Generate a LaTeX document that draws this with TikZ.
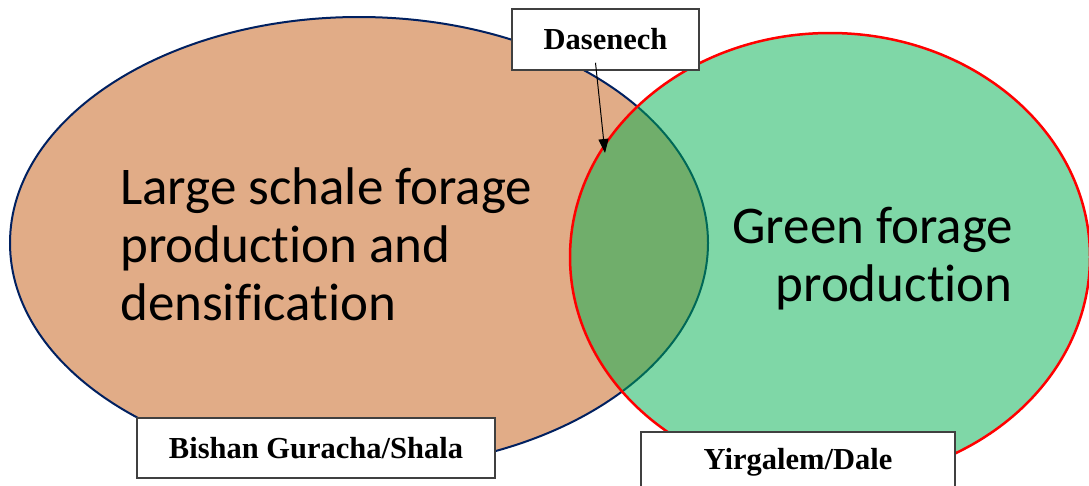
\documentclass[tikz,border=0pt]{standalone}
\usepackage{fontspec}
\setmainfont{Carlito}[Ligatures=NoCommon]
\newfontfamily\labelfont{Liberation Serif}
\usetikzlibrary{arrows.meta}
\definecolor{navyline}{HTML}{002060}
\definecolor{rustfill}{HTML}{C55A11}
\definecolor{leafgreen}{HTML}{00B050}
\definecolor{boxline}{HTML}{404040}
\begin{document}
\begin{tikzpicture}[x=1pt,y=-1pt,
    sitebox/.style={draw=boxline,line width=1.5pt,fill=white,
        font=\labelfont\bfseries\fontsize{30.5}{36}\selectfont},
    bigtext/.style={font=\fontsize{53}{58}\selectfont,inner sep=0pt}]
    \useasboundingbox (0,0) rectangle (1089,485);
    % the two regions
    \fill[white] (0,0) rectangle (1089,485);
    \draw[navyline,line width=2pt,fill=rustfill,fill opacity=0.5] (359,243) ellipse [x radius=349,y radius=226];
    \draw[red,line width=2.5pt,fill=leafgreen,fill opacity=0.5] (830,257) ellipse [x radius=260,y radius=224];
    \node[bigtext,anchor=west,align=left] (large) at (120,244) {Large schale forage\\production and\\densification};
    \node[bigtext,anchor=east,align=right] (green) at (1013,259) {Green forage\\production};
    % site labels
    \node[sitebox,minimum width=187pt,minimum height=61pt] (dasenech) at (605.5,39.5) {Dasenech};
    \node[sitebox,minimum width=358pt,minimum height=60pt] (bishan) at (316,448) {Bishan Guracha/Shala};
    \node[sitebox,minimum width=314pt,minimum height=60pt] (yirgalem) at (798,462) {Yirgalem/Dale};
    \coordinate (tip) at (605,153);
    \draw[-{Triangle[length=14pt,width=10pt]},line width=1pt] ([xshift=-10pt,yshift=8pt]dasenech.south) -- (tip);
\end{tikzpicture}
\end{document}
